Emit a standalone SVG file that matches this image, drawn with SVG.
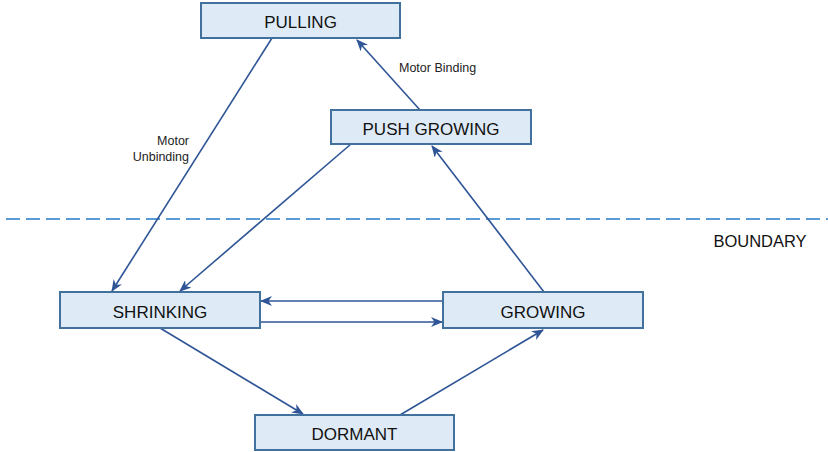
<svg xmlns="http://www.w3.org/2000/svg" width="828" height="452" viewBox="0 0 828 452">
  <style>
    .box { fill: #DEEBF7; stroke: #41719C; stroke-width: 2; }
    .lbl { font-family: "Liberation Sans", Arial, sans-serif; font-size: 17px; fill: #111; text-anchor: middle; }
    .note { font-family: "Liberation Sans", Arial, sans-serif; font-size: 12.5px; fill: #222; }
    .edge { stroke: #2F5597; stroke-width: 1.6; fill: none; marker-end: url(#arr); }
    .boundary { stroke: #5B9BD5; stroke-width: 2; stroke-dasharray: 14 6; }
  </style>
  <defs>
    <marker id="arr" viewBox="0 0 12 10" refX="11" refY="5" markerWidth="12" markerHeight="10" markerUnits="userSpaceOnUse" orient="auto">
      <path d="M0,0 L12,5 L0,10 L3.5,5 z" fill="#2F5597"/>
    </marker>
  </defs>

  <rect width="828" height="452" fill="#fff"/>

  <!-- boundary line -->
  <line class="boundary" x1="6" y1="219" x2="828" y2="219"/>
  <text class="note" x="760" y="247" style="font-size:16.5px;text-anchor:middle;fill:#111">BOUNDARY</text>

  <g id="connectors">
    <line class="edge" x1="272" y1="38" x2="112" y2="291"/>
    <line class="edge" x1="420" y1="110" x2="357" y2="40"/>
    <line class="edge" x1="351" y1="144" x2="180" y2="291"/>
    <line class="edge" x1="544" y1="292" x2="432" y2="146"/>
    <line class="edge" x1="443" y1="301" x2="261" y2="301"/>
    <line class="edge" x1="260" y1="322" x2="442" y2="322"/>
    <line class="edge" x1="160" y1="328" x2="303" y2="414"/>
    <line class="edge" x1="400" y1="415" x2="543" y2="330"/>
    <text class="note" x="399" y="72">Motor Binding</text>
    <text class="note" x="189" y="145" text-anchor="end">Motor</text>
    <text class="note" x="189" y="161" text-anchor="end">Unbinding</text>
  </g>

  <g id="pulling">
    <rect class="box" x="201" y="3" width="199" height="35"/>
    <text class="lbl" x="300.5" y="28">PULLING</text>
  </g>
  <g id="push-growing">
    <rect class="box" x="331" y="110" width="200" height="34"/>
    <text class="lbl" x="431" y="135">PUSH GROWING</text>
  </g>
  <g id="shrinking">
    <rect class="box" x="60" y="292" width="200" height="36"/>
    <text class="lbl" x="160" y="318">SHRINKING</text>
  </g>
  <g id="growing">
    <rect class="box" x="443" y="292" width="200" height="36"/>
    <text class="lbl" x="543" y="318">GROWING</text>
  </g>
  <g id="dormant">
    <rect class="box" x="255" y="415" width="199" height="35"/>
    <text class="lbl" x="354.5" y="440">DORMANT</text>
  </g>
</svg>
